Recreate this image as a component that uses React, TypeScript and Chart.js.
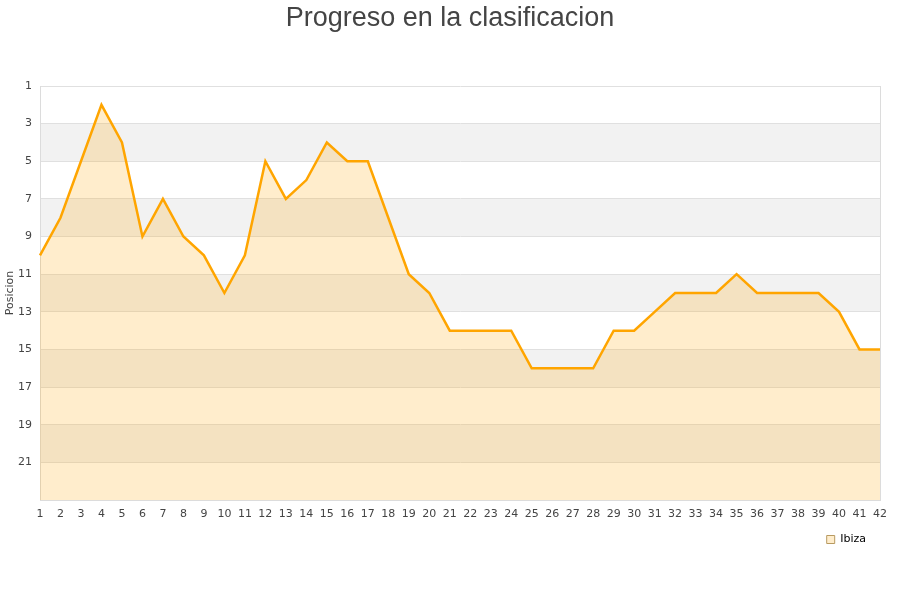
import React, { useEffect, useRef } from "react";
import { Chart, registerables } from "chart.js";

Chart.register(...registerables);

const jornadas: string[] = Array.from({ length: 42 }, (_, i) => String(i + 1));
const posiciones: number[] = [
  10, 8, 5, 2, 4, 9, 7, 9, 10, 12,
  10, 5, 7, 6, 4, 5, 5, 8, 11, 12,
  14, 14, 14, 14, 16, 16, 16, 16, 14, 14,
  13, 12, 12, 12, 11, 12, 12, 12, 12, 13,
  15, 15,
];
const teamName = "Ibiza";
const chartTitle = "Progreso en la clasificacion";
const yTitle = "Posicion";
const bandRanges: [number, number][] = [[3, 5], [7, 9], [11, 13], [15, 17], [19, 21]];

const bandsPlugin = {
  id: "bands",
  beforeDraw(chart: any) {
    const { ctx, chartArea, scales } = chart;
    const y = scales.y;
    ctx.save();
    ctx.fillStyle = "#f2f2f2";
    for (const [a, b] of bandRanges) {
      const y1 = y.getPixelForValue(a);
      const y2 = y.getPixelForValue(b);
      ctx.fillRect(chartArea.left, Math.min(y1, y2), chartArea.right - chartArea.left, Math.abs(y2 - y1));
    }
    ctx.restore();
  },
  afterDatasetsDraw(chart: any) {
    const { ctx, chartArea } = chart;
    ctx.save();
    ctx.strokeStyle = "#dcdcdc";
    ctx.lineWidth = 1;
    ctx.beginPath();
    ctx.moveTo(Math.round(chartArea.right) + 0.5, chartArea.top);
    ctx.lineTo(Math.round(chartArea.right) + 0.5, chartArea.bottom);
    ctx.stroke();
    ctx.restore();
  },
  afterDraw(chart: any) {
    const { ctx, width } = chart;
    ctx.save();
    ctx.fillStyle = "#444";
    ctx.font = "27px 'Liberation Sans', Arial, sans-serif";
    ctx.textAlign = "center";
    ctx.textBaseline = "alphabetic";
    ctx.fillText(chartTitle, width / 2, 26);
    ctx.restore();
  },
};

export default function App() {
  const ref = useRef<HTMLCanvasElement | null>(null);
  useEffect(() => {
    if (!ref.current) return;
    const chart = new Chart(ref.current, {
      type: "line",
      data: {
        labels: jornadas,
        datasets: [
          {
            label: teamName,
            data: posiciones,
            borderColor: "#ffa500",
            backgroundColor: "rgba(255,165,0,0.2)",
            borderWidth: 2.5,
            pointRadius: 0,
            tension: 0,
            fill: { value: 23 },
          },
        ],
      },
      options: {
        animation: false,
        responsive: false,
        layout: { padding: { left: 0, right: 20, top: 86, bottom: 45 } },
        plugins: {
          title: { display: false },
          legend: {
            position: "bottom",
            align: "end",
            labels: {
              boxWidth: 8,
              boxHeight: 8,
              padding: 14,
              color: "#222",
              font: { family: "'DejaVu Sans', sans-serif", size: 11 },
              generateLabels: () => [
                {
                  text: teamName,
                  fillStyle: "rgba(255,165,0,0.2)",
                  strokeStyle: "#b89a60",
                  lineWidth: 1,
                  datasetIndex: 0,
                },
              ],
            },
          },
          tooltip: { enabled: false },
        },
        scales: {
          x: {
            grid: { display: false, drawTicks: false },
            border: { display: true, color: "#dcdcdc" },
            ticks: {
              autoSkip: false,
              maxRotation: 0,
              padding: 8,
              color: "#444",
              font: { family: "'DejaVu Sans', sans-serif", size: 11 },
            },
            afterFit: (s: any) => { s.height = 20; },
          },
          y: {
            reverse: true,
            min: 1,
            max: 23,
            grid: { color: "#e0e0e0", drawTicks: false },
            border: { display: true, color: "#dcdcdc" },
            ticks: {
              stepSize: 2,
              padding: 8,
              color: "#444",
              font: { family: "'DejaVu Sans', sans-serif", size: 11 },
              callback: (v: any) => (v === 23 ? "" : String(v)),
            },
            title: {
              display: true,
              text: yTitle,
              color: "#444",
              font: { family: "'DejaVu Sans', sans-serif", size: 11 },
            },
            afterFit: (s: any) => { s.width = 40; },
          },
        },
      },
      plugins: [bandsPlugin],
    });
    return () => chart.destroy();
  }, []);
  return (
    <div style={{ position: "fixed", left: 0, top: 0, width: 900, height: 600, background: "#fff" }}>
      <canvas ref={ref} width={900} height={600} />
    </div>
  );
}
